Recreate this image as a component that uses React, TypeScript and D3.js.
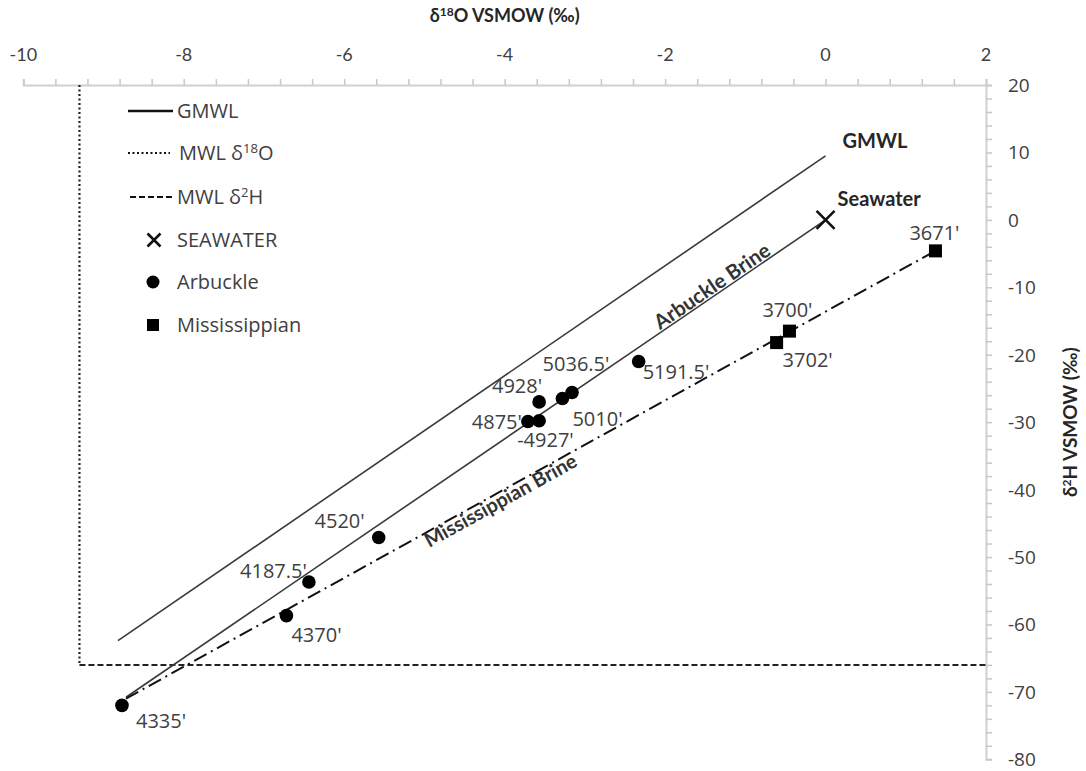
import React, { useEffect, useRef } from "react";
import * as d3 from "d3";

// axis ticks
const X_TICKS = [-10, -8, -6, -4, -2, 0, 2];
const Y_TICKS = [20, 10, 0, -10, -20, -30, -40, -50, -60, -70, -80];

// Arbuckle samples (δ18O, δ2H)
const ARBUCKLE_LABELS = ["4335'", "4370'", "4187.5'", "4520'", "4875'", "-4927'", "4928'", "5010'", "5036.5'", "5191.5'"];
const ARBUCKLE_O = [-8.77, -6.72, -6.44, -5.57, -3.71, -3.57, -3.57, -3.28, -3.16, -2.33];
const ARBUCKLE_H = [-72.0, -58.7, -53.7, -47.1, -29.9, -29.8, -27.0, -26.5, -25.6, -21.0];

// Mississippian samples
const MISS_LABELS = ["3702'", "3700'", "3671'"];
const MISS_O = [-0.61, -0.45, 1.37];
const MISS_H = [-18.2, -16.5, -4.6];

const SEAWATER_O = [0];
const SEAWATER_H = [0];

// lines
const GMWL_O = [-8.82, 0];
const GMWL_H = [-62.4, 9.5];
const ARB_BRINE_O = [-8.72, 0];
const ARB_BRINE_H = [-70.8, 0];
const MISS_BRINE_O = [-8.72, 1.37];
const MISS_BRINE_H = [-71.0, -4.6];
const MWL_O = -9.3;
const MWL_H = -66;

// label placement relative to its point: dx, dy, anchor
const LABEL_POS: Record<string, [number, number, string]> = {
  "4335'": [14, 23, "start"],
  "4370'": [5, 26, "start"],
  "4187.5'": [-2, -4, "end"],
  "4520'": [-14, -9, "end"],
  "4875'": [-6, 8, "end"],
  "-4927'": [-22, 26, "start"],
  "4928'": [3, -9, "end"],
  "5010'": [10, 27, "start"],
  "5036.5'": [4, -21, "middle"],
  "5191.5'": [4, 18, "start"],
  "3702'": [6, 24, "start"],
  "3700'": [-2, -14, "middle"],
  "3671'": [-1, -11, "middle"],
};

const W = 1086;
const H = 771;
const SANS = "'Open Sans', sans-serif";
const NARROW = "Lato, 'Open Sans', sans-serif";
const TXT = "#404040";

function renderChart(svgEl: SVGSVGElement) {
  const svg = d3.select(svgEl);
  svg.selectAll("*").remove();

  const x = d3.scaleLinear().domain([-10, 2]).range([23.3, 986]);
  const y = d3.scaleLinear().domain([-80, 20]).range([759.3, 85]);
  const line = d3.line<[number, number]>().x(d => x(d[0])).y(d => y(d[1]));
  const zip = (a: number[], b: number[]) => a.map((v, i) => [v, b[i]] as [number, number]);

  // top axis
  const top = svg.append("g").attr("transform", `translate(0,${y(20)})`);
  top.call(
    d3.axisTop(x).tickValues(d3.range(-10, 2.001, 0.4)).tickSize(6).tickFormat(() => "")
  );
  top.select(".domain").attr("stroke", "#d0d0d0").attr("stroke-width", 2);
  top.selectAll(".tick line").attr("stroke", "#c8c8c8").attr("stroke-width", 1.5);

  svg.append("g").selectAll("text").data(X_TICKS).join("text")
    .attr("x", d => x(d)).attr("y", 61)
    .attr("text-anchor", "middle").attr("font-family", NARROW).attr("font-size", 18)
    .attr("fill", TXT).text(d => String(d));

  // right axis
  const right = svg.append("g").attr("transform", `translate(${x(2)},0)`);
  right.call(
    d3.axisRight(y).tickValues(d3.range(-80, 20.001, 2)).tickSize(6).tickFormat(() => "")
  );
  right.select(".domain").attr("stroke", "#d0d0d0").attr("stroke-width", 2);
  right.selectAll(".tick line").attr("stroke", "#c8c8c8").attr("stroke-width", 1.5);

  svg.append("g").selectAll("text").data(Y_TICKS).join("text")
    .attr("x", x(2) + 22).attr("y", d => y(d) + 7)
    .attr("text-anchor", "start").attr("font-family", SANS).attr("font-size", 19)
    .attr("fill", TXT).text(d => String(d));

  // axis titles
  const tTop = svg.append("text")
    .attr("x", (x(-10) + x(2)) / 2).attr("y", 22)
    .attr("text-anchor", "middle").attr("font-family", NARROW).attr("font-weight", "bold")
    .attr("font-size", 18).attr("fill", "#262626");
  tTop.append("tspan").text("δ");
  tTop.append("tspan").attr("font-size", 12).attr("dy", -6).text("18");
  tTop.append("tspan").attr("dy", 6).text("O VSMOW (‰)");

  const tRight = svg.append("text")
    .attr("transform", `translate(1077,${(y(20) + y(-80)) / 2}) rotate(-90)`)
    .attr("text-anchor", "middle").attr("font-family", NARROW).attr("font-weight", "bold")
    .attr("font-size", 19).attr("fill", "#262626");
  tRight.append("tspan").text("δ");
  tRight.append("tspan").attr("font-size", 12).attr("dy", -6).text("2");
  tRight.append("tspan").attr("dy", 6).text("H VSMOW (‰)");

  // meteoric water lines
  svg.append("path")
    .attr("d", line([[MWL_O, 20], [MWL_O, MWL_H]]))
    .attr("stroke", "#222").attr("stroke-width", 2.2).attr("stroke-dasharray", "2 2.5").attr("fill", "none");
  svg.append("path")
    .attr("d", line([[MWL_O, MWL_H], [2, MWL_H]]))
    .attr("stroke", "#222").attr("stroke-width", 2).attr("stroke-dasharray", "6 3").attr("fill", "none");

  // GMWL and brine lines
  svg.append("path").attr("d", line(zip(GMWL_O, GMWL_H)))
    .attr("stroke", "#3a3a3a").attr("stroke-width", 1.6).attr("fill", "none");
  svg.append("path").attr("d", line(zip(ARB_BRINE_O, ARB_BRINE_H)))
    .attr("stroke", "#3a3a3a").attr("stroke-width", 1.6).attr("fill", "none");
  svg.append("path").attr("d", line(zip(MISS_BRINE_O, MISS_BRINE_H)))
    .attr("stroke", "#111").attr("stroke-width", 2).attr("stroke-dasharray", "14 5 2 5").attr("fill", "none");

  // line annotations
  const angle = (o: number[], h: number[]) =>
    (Math.atan2(y(h[1]) - y(h[0]), x(o[1]) - x(o[0])) * 180) / Math.PI;
  const onLine = (o: number[], h: number[], v: number) =>
    h[0] + ((v - o[0]) * (h[1] - h[0])) / (o[1] - o[0]);

  svg.append("text")
    .attr("x", x(GMWL_O[1]) + 17).attr("y", y(GMWL_H[1]) - 8)
    .attr("font-family", NARROW).attr("font-weight", "bold").attr("font-size", 20)
    .attr("fill", "#262626").text("GMWL");
  svg.append("text")
    .attr("x", x(SEAWATER_O[0]) + 12).attr("y", y(SEAWATER_H[0]) - 14)
    .attr("font-family", NARROW).attr("font-weight", "bold").attr("font-size", 20)
    .attr("fill", "#262626").text("Seawater");

  const aPos = -1.35;
  svg.append("text")
    .attr("transform", `translate(${x(aPos)},${y(onLine(ARB_BRINE_O, ARB_BRINE_H, aPos))}) rotate(${angle(ARB_BRINE_O, ARB_BRINE_H)})`)
    .attr("dy", -2).attr("text-anchor", "middle")
    .attr("font-family", NARROW).attr("font-weight", "bold").attr("font-size", 20.5)
    .attr("fill", "#333").text("Arbuckle Brine");

  const mPos = -4.1;
  svg.append("text")
    .attr("transform", `translate(${x(mPos)},${y(onLine(MISS_BRINE_O, MISS_BRINE_H, mPos))}) rotate(${angle(MISS_BRINE_O, MISS_BRINE_H)})`)
    .attr("dy", 15).attr("text-anchor", "middle")
    .attr("font-family", NARROW).attr("font-weight", "bold").attr("font-size", 20)
    .attr("fill", "#333").text("Mississippian Brine");

  // seawater marker
  const cross = (g: d3.Selection<SVGGElement, unknown, null, undefined>, cx: number, cy: number, s: number) => {
    g.append("path")
      .attr("d", `M${cx - s},${cy - s}L${cx + s},${cy + s}M${cx - s},${cy + s}L${cx + s},${cy - s}`)
      .attr("stroke", "#111").attr("stroke-width", 2.6).attr("fill", "none");
  };
  const marks = svg.append("g");
  SEAWATER_O.forEach((o, i) => cross(marks, x(o), y(SEAWATER_H[i]), 9));

  // Arbuckle points
  marks.selectAll("circle.arb").data(ARBUCKLE_O).join("circle")
    .attr("class", "arb")
    .attr("cx", d => x(d)).attr("cy", (_, i) => y(ARBUCKLE_H[i]))
    .attr("r", 6.8).attr("fill", "#000");

  // Mississippian points
  marks.selectAll("rect.miss").data(MISS_O).join("rect")
    .attr("class", "miss")
    .attr("x", d => x(d) - 6.5).attr("y", (_, i) => y(MISS_H[i]) - 6.5)
    .attr("width", 13).attr("height", 13).attr("fill", "#000");

  // point labels
  const labels = svg.append("g").attr("font-family", SANS).attr("font-size", 20).attr("fill", TXT);
  const addLabels = (names: string[], os: number[], hs: number[]) => {
    names.forEach((n, i) => {
      const [dx, dy, anchor] = LABEL_POS[n];
      labels.append("text")
        .attr("x", x(os[i]) + dx).attr("y", y(hs[i]) + dy)
        .attr("text-anchor", anchor).text(n);
    });
  };
  addLabels(ARBUCKLE_LABELS, ARBUCKLE_O, ARBUCKLE_H);
  addLabels(MISS_LABELS, MISS_O, MISS_H);

  // legend
  const lg = svg.append("g").attr("font-family", SANS).attr("font-size", 20).attr("fill", TXT);
  const lx = 128, tx = 177;
  const rows = [111, 153, 197, 240, 282, 325];
  lg.append("line").attr("x1", lx).attr("x2", 173).attr("y1", rows[0]).attr("y2", rows[0])
    .attr("stroke", "#111").attr("stroke-width", 2.6);
  lg.append("line").attr("x1", lx).attr("x2", 170).attr("y1", rows[1]).attr("y2", rows[1])
    .attr("stroke", "#111").attr("stroke-width", 2.2).attr("stroke-dasharray", "2 2.5");
  lg.append("line").attr("x1", 130).attr("x2", 173).attr("y1", rows[2]).attr("y2", rows[2])
    .attr("stroke", "#111").attr("stroke-width", 2.2).attr("stroke-dasharray", "6 3");
  cross(lg, 154, rows[3], 6.5);
  lg.append("circle").attr("cx", 153).attr("cy", rows[4]).attr("r", 6.5).attr("fill", "#000");
  lg.append("rect").attr("x", 147).attr("y", rows[5] - 6).attr("width", 12).attr("height", 12).attr("fill", "#000");

  lg.append("text").attr("x", tx).attr("y", rows[0] + 7).text("GMWL");
  const t1 = lg.append("text").attr("x", tx + 2).attr("y", rows[1] + 7);
  t1.append("tspan").text("MWL δ");
  t1.append("tspan").attr("font-size", 13).attr("dy", -7).text("18");
  t1.append("tspan").attr("dy", 7).text("O");
  const t2 = lg.append("text").attr("x", tx).attr("y", rows[2] + 7);
  t2.append("tspan").text("MWL δ");
  t2.append("tspan").attr("font-size", 13).attr("dy", -7).text("2");
  t2.append("tspan").attr("dy", 7).text("H");
  lg.append("text").attr("x", tx).attr("y", rows[3] + 7).text("SEAWATER");
  lg.append("text").attr("x", tx).attr("y", rows[4] + 7).text("Arbuckle");
  lg.append("text").attr("x", tx).attr("y", rows[5] + 7).text("Mississippian");
}

export default function App() {
  const svgRef = useRef<SVGSVGElement>(null);

  useEffect(() => {
    document.body.style.margin = "0";
    if (svgRef.current) renderChart(svgRef.current);
  }, []);

  return (
    <div style={{ width: W, height: H, background: "#fff" }}>
      <svg ref={svgRef} width={W} height={H} style={{ display: "block" }} />
    </div>
  );
}
